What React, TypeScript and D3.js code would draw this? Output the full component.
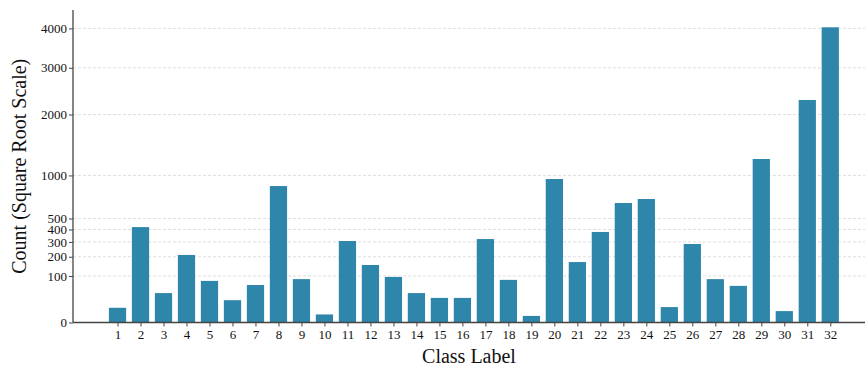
import { useEffect, useRef } from 'react';
import * as d3 from 'd3';

// class labels and counts
const classes = d3.range(1, 33);
const counts = [
  10, 421, 40, 211, 80, 23, 65, 861, 87, 3,
  307, 153, 96, 40, 28, 28, 322, 84, 2, 952,
  169, 379, 660, 705, 11, 285, 87, 62, 1236, 6,
  2289, 4030,
];
const yTicks = [0, 100, 200, 300, 400, 500, 1000, 2000, 3000, 4000];

const W = 867;
const H = 366;
const FONT = '"Liberation Serif", "Times New Roman", serif';

export default function App() {
  const svgRef = useRef<SVGSVGElement>(null);

  useEffect(() => {
    if (!svgRef.current) return;
    const svg = d3.select(svgRef.current);
    svg.selectAll('*').remove();

    const left = 73;
    const right = 865;
    const top = 10;
    const bottom = 322.5;

    const x = d3.scaleLinear().domain([-0.936, 33.51]).range([left, right]);
    const y = d3.scaleSqrt().domain([0, 4516]).range([bottom, top]);
    const barW = x(1.75) - x(1);

    // grid
    svg.append('g')
      .selectAll('line')
      .data(yTicks.filter(t => t > 0))
      .join('line')
      .attr('x1', left)
      .attr('x2', right)
      .attr('y1', d => y(d))
      .attr('y2', d => y(d))
      .attr('stroke', '#d6d6d6')
      .attr('stroke-width', 0.8)
      .attr('stroke-dasharray', '3,2');

    // bars
    svg.append('g')
      .selectAll('rect')
      .data(counts)
      .join('rect')
      .attr('x', (d, i) => x(classes[i]) - barW / 2)
      .attr('y', d => y(d))
      .attr('width', barW)
      .attr('height', d => bottom - y(d))
      .attr('fill', '#2E86AB');

    // y axis
    const yAxis = svg.append('g')
      .attr('transform', `translate(${left},0)`)
      .call(d3.axisLeft(y).tickValues(yTicks).tickSize(4).tickPadding(2).tickFormat(d => String(d)));
    yAxis.select('.domain').attr('d', `M0,${top}V${bottom}`);

    // x axis
    const xAxis = svg.append('g')
      .attr('transform', `translate(0,${bottom})`)
      .call(d3.axisBottom(x).tickValues(classes).tickSize(4).tickPadding(3).tickFormat(d => String(d)));
    xAxis.select('.domain').attr('d', `M${left},0H${right}`);

    svg.selectAll('.domain').attr('stroke', '#444').attr('stroke-width', 1.3);
    svg.selectAll('.tick line').attr('stroke', '#444').attr('stroke-width', 1);
    svg.selectAll('.tick text')
      .attr('fill', '#111')
      .style('font-family', FONT)
      .style('font-size', '13px');

    svg.append('text')
      .attr('x', (left + right) / 2)
      .attr('y', 363)
      .attr('text-anchor', 'middle')
      .style('font-family', FONT)
      .style('font-size', '20px')
      .attr('fill', '#111')
      .text('Class Label');

    svg.append('text')
      .attr('transform', `translate(26,${(top + bottom) / 2}) rotate(-90)`)
      .attr('text-anchor', 'middle')
      .style('font-family', FONT)
      .style('font-size', '20px')
      .attr('fill', '#111')
      .text('Count (Square Root Scale)');
  }, []);

  return (
    <svg
      ref={svgRef}
      width={W}
      height={H}
      style={{ position: 'absolute', left: 0, top: 0, background: '#fff' }}
    />
  );
}
